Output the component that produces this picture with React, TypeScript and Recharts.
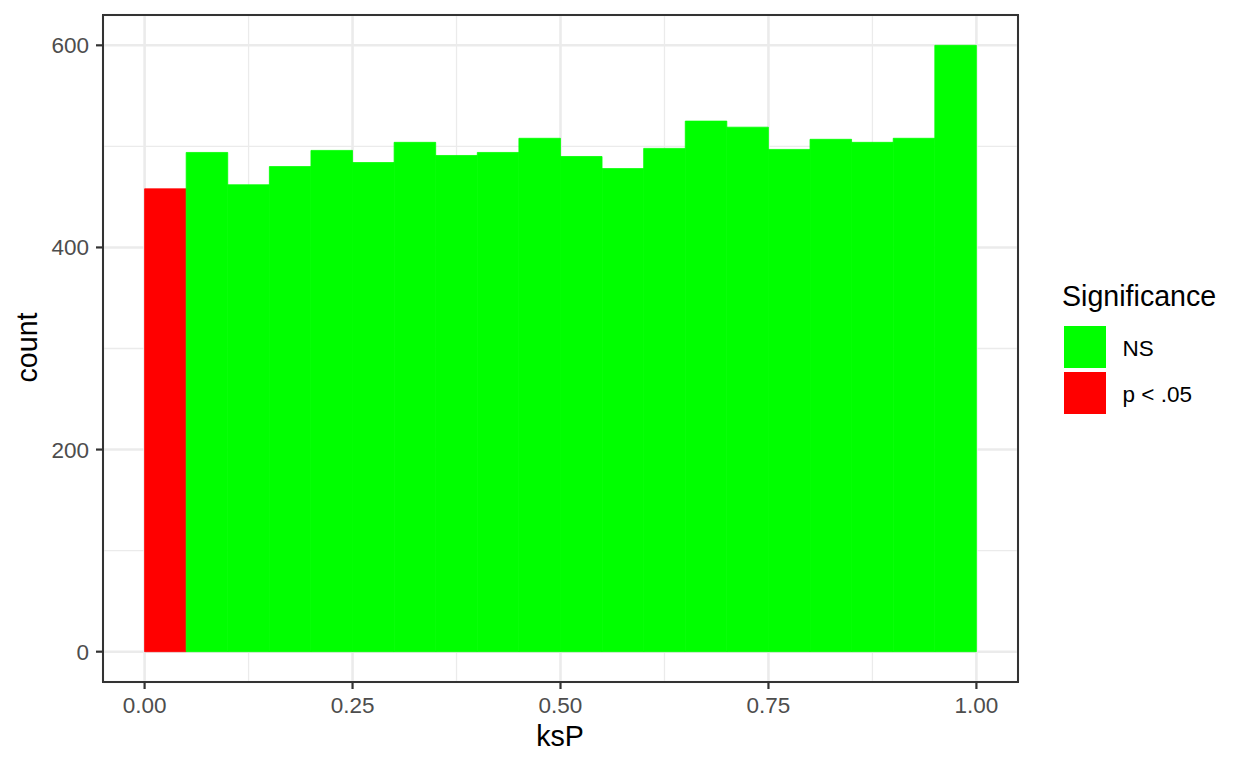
import { ComposedChart, Bar, Cell, XAxis, YAxis, CartesianGrid, ReferenceArea } from 'recharts';

// histogram of ksP, 20 bins of width 0.05
const binStarts = [0, 0.05, 0.1, 0.15, 0.2, 0.25, 0.3, 0.35, 0.4, 0.45, 0.5, 0.55, 0.6, 0.65, 0.7, 0.75, 0.8, 0.85, 0.9, 0.95];
const counts = [458, 494, 462, 480, 496, 484, 504, 491, 494, 508, 490, 478, 498, 525, 519, 497, 507, 504, 508, 600];
const binWidth = 0.05;

const xTicks = [0, 0.25, 0.5, 0.75, 1];
const yTicks = [0, 200, 400, 600];
const xMinorBreaks = [0.125, 0.375, 0.625, 0.875];
const yMinorBreaks = [100, 300, 500];

const groups = ['NS', 'p < .05'];
const groupColors: Record<string, string> = { NS: '#00FF00', 'p < .05': '#FF0000' };

const data = binStarts.map((start, i) => ({
  mid: start + binWidth / 2,
  count: counts[i],
  group: start < 0.05 ? 'p < .05' : 'NS',
}));

// ggplot-style 5% expansion of the ranges
const xLo = binStarts[0];
const xHi = binStarts[binStarts.length - 1] + binWidth;
const xPad = (xHi - xLo) * 0.05;
const xDomain: [number, number] = [xLo - xPad, xHi + xPad];
const yHi = Math.max(...counts);
const yDomain: [number, number] = [-yHi * 0.05, yHi * 1.05];

const W = 1248;
const H = 768;
const margin = { top: 15, right: 230, bottom: 46, left: 43 };
const yAxisWidth = 60;
const xAxisHeight = 40;
const plotWidth = W - margin.left - yAxisWidth - margin.right;
// a hair under the bin's pixel width, otherwise recharts falls back to 90% bars
const barSize = (plotWidth * binWidth) / (xDomain[1] - xDomain[0]) - 0.05;

const FONT = '"Liberation Sans", Arial, Helvetica, sans-serif';
const tickStyle = { fill: '#4D4D4D', fontSize: 22.5, fontFamily: FONT };

export default function App() {
  return (
    <div style={{ position: 'absolute', left: 0, top: 0, width: W, height: H, background: '#fff', fontFamily: FONT }}>
      <ComposedChart width={W} height={H} data={data} margin={margin} barGap={0} barCategoryGap={0}>
        <CartesianGrid
          stroke="#EBEBEB"
          strokeWidth={1.3}
          verticalValues={xMinorBreaks}
          horizontalValues={yMinorBreaks}
        />
        <CartesianGrid stroke="#EBEBEB" strokeWidth={2.6} />
        <XAxis
          type="number"
          dataKey="mid"
          domain={xDomain}
          ticks={xTicks}
          allowDataOverflow
          height={xAxisHeight}
          tickFormatter={(v: number) => v.toFixed(2)}
          axisLine={false}
          tickLine={{ stroke: '#333333', strokeWidth: 2.2 }}
          tickSize={7}
          tickMargin={8}
          tick={tickStyle}
          interval={0}
        />
        <YAxis
          type="number"
          domain={yDomain}
          ticks={yTicks}
          allowDataOverflow
          width={yAxisWidth}
          axisLine={false}
          tickLine={{ stroke: '#333333', strokeWidth: 2.2 }}
          tickSize={7}
          tickMargin={7}
          tick={tickStyle}
          interval={0}
        />
        <Bar dataKey="count" barSize={barSize} isAnimationActive={false}>
          {data.map((d, i) => (
            <Cell key={i} fill={groupColors[d.group]} stroke={groupColors[d.group]} strokeWidth={0.8} />
          ))}
        </Bar>
        <ReferenceArea
          x1={xDomain[0]}
          x2={xDomain[1]}
          y1={yDomain[0]}
          y2={yDomain[1]}
          fill="none"
          fillOpacity={0}
          stroke="#333333"
          strokeWidth={2}
          ifOverflow="visible"
        />
      </ComposedChart>

      {/* axis titles and legend */}
      <svg width={W} height={H} style={{ position: 'absolute', left: 0, top: 0, pointerEvents: 'none' }}>
        <text x={560} y={745.5} textAnchor="middle" fontSize={28.6} fontFamily={FONT} fill="#000">
          ksP
        </text>
        <text
          x={0}
          y={0}
          transform="translate(36.5,347.5) rotate(-90)"
          textAnchor="middle"
          fontSize={28.6}
          fontFamily={FONT}
          fill="#000"
        >
          count
        </text>
        <text x={1062} y={306} fontSize={28.6} fontFamily={FONT} fill="#000">
          Significance
        </text>
        {groups.map((g, i) => (
          <g key={g} transform={`translate(1064,${326 + i * 46})`}>
            <rect x={0} y={0} width={42} height={42} fill={groupColors[g]} />
            <text x={58.5} y={29.5} fontSize={22.5} fontFamily={FONT} fill="#000">
              {g}
            </text>
          </g>
        ))}
      </svg>
    </div>
  );
}
